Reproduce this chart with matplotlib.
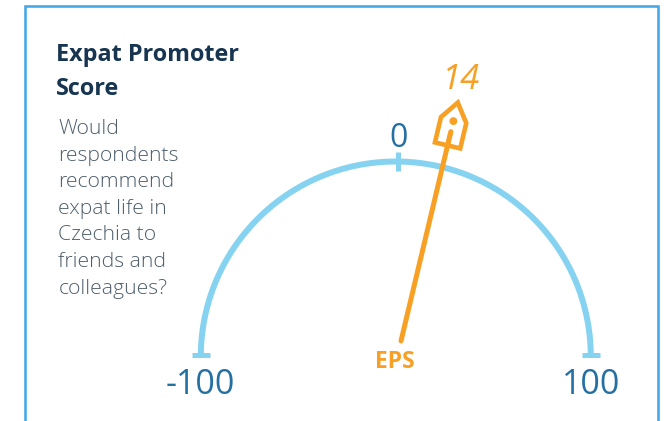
import numpy as np
import matplotlib
matplotlib.use("Agg")
import matplotlib.pyplot as plt
from matplotlib.patches import Polygon, Circle

# ---- data ----
gauge_min = -100
gauge_max = 100
tick_values = [-100, 0, 100]
tick_labels = ["-100", "0", "100"]
score = 14
score_label = "14"
needle_name = "EPS"
title_lines = ["Expat Promoter", "Score"]
body_lines = ["Would", "respondents", "recommend", "expat life in",
              "Czechia to", "friends and", "colleagues?"]

# ---- styling ----
ORANGE = "#f7a024"
ARC = "#86d3f1"
TICKTXT = "#2470a3"
TITLE = "#173550"
BODY = "#4e5e6c"
BORDER = "#45a8e6"
FONT = "Open Sans"

W, H = 664, 421
fig = plt.figure(figsize=(W / 100, H / 100), dpi=100)
ax = fig.add_axes([0, 0, 1, 1])
ax.set_xlim(0, W)
ax.set_ylim(H, 0)
ax.axis("off")

PX = 72 / 100  # points per pixel

# border (left, top, right)
ax.plot([24.8, 24.8, 657.5, 657.5], [430, 6.2, 6.2, 430], color=BORDER,
        lw=2.6 * PX, solid_joinstyle="miter")

# gauge geometry
cx, cy, R = 395.8, 356.5, 195.0


def ang(v):
    return np.deg2rad(180 - (v - gauge_min) / (gauge_max - gauge_min) * 180)


t = np.linspace(ang(gauge_min), ang(gauge_max), 400)
ax.plot(cx + R * np.cos(t), cy - R * np.sin(t), color=ARC, lw=6 * PX,
        solid_capstyle="butt")

for v, lab in zip(tick_values, tick_labels):
    a = ang(v)
    if abs(np.sin(a)) < 1e-6:
        x0 = cx + R * np.cos(a)
        ax.plot([x0 - 9.2, x0 + 9.2], [cy - 1.3, cy - 1.3], color=ARC,
                lw=5 * PX, solid_capstyle="butt")
        ax.text(x0, cy + 29, lab, color=TICKTXT, fontsize=24.5,
                family=FONT, ha="center", va="center")
    else:
        ax.plot([cx + (R - 9) * np.cos(a) + 2.5, cx + (R + 10) * np.cos(a) + 2.5],
                [cy - (R - 9) * np.sin(a), cy - (R + 10) * np.sin(a)],
                color=ARC, lw=5 * PX, solid_capstyle="butt")
        ax.text(cx + (R + 26) * np.cos(a) + 2.5, cy - (R + 23) * np.sin(a),
                lab, color=TICKTXT, fontsize=23, family=FONT,
                ha="center", va="center")

# needle
a = ang(score) - np.deg2rad(0.8)
d = np.array([np.cos(a), -np.sin(a)])
n = np.array([np.sin(a), np.cos(a)])
piv = np.array([cx + 1.5, cy])


def P(u, v):
    return piv + u * d + v * n


p1, p2 = P(16, 0), P(231, 0)
ax.plot([p1[0], p2[0]], [p1[1], p2[1]], color=ORANGE, lw=5 * PX,
        solid_capstyle="round")
house = [P(217, -13), P(217, 13), P(243, 13), P(261, 0), P(243, -13)]
ax.add_patch(Polygon(house, closed=True, facecolor="white", edgecolor=ORANGE,
                     lw=4.6 * PX, joinstyle="miter"))
ax.plot([P(217, 0)[0], P(231, 0)[0]], [P(217, 0)[1], P(231, 0)[1]],
        color=ORANGE, lw=4.6 * PX, solid_capstyle="round")
ax.add_patch(Circle(P(242, 0), 3.2, color=ORANGE))
lp = P(284, 0)
ax.text(lp[0] - 2, lp[1], score_label, color=ORANGE, fontsize=25, family=FONT,
        style="italic", ha="center", va="center")

ax.text(cx - 1, cy + 6, needle_name, color=ORANGE, fontsize=16.5, family=FONT,
        fontweight="bold", ha="center", va="center")

# left text
for i, line in enumerate(title_lines):
    ax.text(55.5, 61 + i * 34, line, color=TITLE, fontsize=16.8, family=FONT,
            fontweight="bold", ha="left", va="baseline")
for i, line in enumerate(body_lines):
    ax.text(58.5, 134 + i * 26.6, line, color=BODY, fontsize=15.2, family=FONT,
            fontweight="light", ha="left", va="baseline")

fig.savefig("out.png", dpi=100)
